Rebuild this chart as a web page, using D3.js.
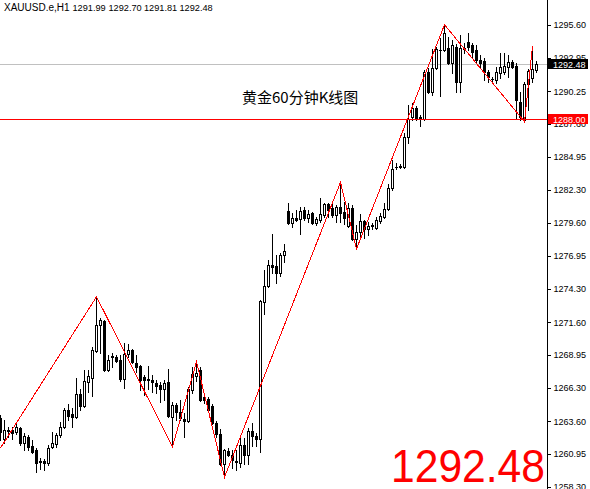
<!DOCTYPE html>
<html>
<head>
<meta charset="utf-8">
<script src="https://cdn.jsdelivr.net/npm/d3@7"></script>
<style>
  html, body { margin: 0; padding: 0; background: #ffffff; }
  svg { display: block; }
</style>
</head>
<body>
<svg id="chart" width="590" height="489"></svg>
<script>
// XAUUSD H1 candles, oldest first
const symbol = "XAUUSD.e,H1";
const title = "黄金60分钟K线图";

const opens = [
  1263.86,1262.16,1262.85,1262.89,1262.72,1263.05,1261.84,1262.32,1261.59,1261.27,
  1260.34,1260.38,1260.22,1261.51,1261.76,1262.48,1263.13,1264.50,1264.18,1263.94,
  1265.79,1264.82,1266.76,1267.09,1269.27,1271.37,1271.69,1267.73,1268.86,1268.78,
  1268.54,1267.01,1269.03,1269.35,1268.30,1268.06,1267.17,1267.01,1266.93,1266.68,
  1266.52,1266.20,1266.76,1263.94,1264.91,1264.34,1263.77,1263.61,1266.12,1267.25,
  1267.73,1265.55,1265.39,1264.82,1263.45,1262.56,1260.14,1261.19,1260.87,1260.42,
  1260.22,1261.67,1260.87,1262.81,1262.40,1262.16,1273.23,1274.52,1276.21,1276.13,
  1275.57,1277.02,1280.58,1279.61,1280.01,1279.93,1280.66,1280.01,1280.41,1279.61,
  1279.85,1280.25,1281.14,1280.82,1280.25,1280.90,1280.50,1279.39,1280.82,1278.32,
  1278.88,1279.77,1279.12,1279.37,1279.20,1279.77,1280.12,1280.74,1282.43,1284.13,
  1284.21,1284.13,1286.55,1288.17,1288.90,1288.13,1288.01,1291.80,1290.19,1292.13,
  1293.58,1293.58,1293.74,1292.53,1293.82,1291.00,1293.74,1294.23,1293.99,1293.58,
  1292.77,1292.69,1291.80,1291.24,1291.16,1291.72,1291.80,1292.21,1292.61,1292.29,
  1289.38,1287.93,1290.84,1291.32,1291.99
];
const highs = [
  1264.10,1263.69,1263.13,1263.13,1263.45,1263.13,1262.64,1262.48,1262.08,1261.43,
  1260.62,1260.54,1261.67,1262.72,1262.64,1263.53,1264.66,1264.99,1264.66,1267.09,
  1266.20,1267.73,1267.73,1269.59,1273.65,1271.93,1271.77,1268.94,1269.11,1268.94,
  1268.94,1269.91,1269.83,1269.43,1268.94,1268.14,1267.33,1268.06,1267.33,1266.93,
  1266.76,1266.93,1267.81,1265.15,1265.07,1265.31,1264.26,1266.36,1267.98,1268.40,
  1267.98,1265.63,1265.55,1264.99,1263.61,1262.97,1261.35,1261.43,1261.27,1261.27,
  1262.32,1262.24,1263.05,1263.45,1262.64,1273.39,1275.81,1276.62,1278.72,1277.02,
  1277.18,1277.91,1281.22,1280.41,1280.66,1280.90,1280.90,1280.66,1280.50,1280.09,
  1281.63,1281.22,1281.22,1281.30,1281.06,1282.89,1281.30,1281.22,1281.06,1279.45,
  1280.33,1279.85,1279.69,1279.61,1280.09,1280.41,1281.22,1282.76,1284.70,1284.45,
  1284.37,1286.88,1289.14,1289.30,1289.06,1288.33,1291.97,1292.13,1293.66,1293.82,
  1294.55,1295.62,1294.63,1294.39,1294.07,1294.79,1294.15,1294.95,1294.15,1293.99,
  1293.18,1292.94,1291.97,1291.40,1292.21,1293.34,1293.34,1293.18,1292.77,1292.53,
  1290.19,1291.00,1292.05,1293.90,1292.70
];
const lows = [
  1262.08,1261.84,1262.32,1262.16,1262.56,1261.67,1261.27,1261.27,1261.03,1259.49,
  1259.74,1259.66,1260.06,1261.43,1261.51,1262.32,1263.05,1263.69,1263.13,1263.86,
  1264.50,1264.74,1265.96,1265.63,1269.19,1269.11,1267.65,1267.65,1267.98,1268.38,
  1266.84,1266.28,1268.78,1268.30,1267.57,1266.12,1265.71,1266.20,1265.96,1265.88,
  1265.15,1265.31,1263.94,1261.54,1263.69,1263.69,1262.32,1263.53,1265.88,1266.84,
  1265.23,1265.07,1264.42,1263.37,1262.32,1260.06,1259.07,1260.79,1259.82,1259.66,
  1259.90,1260.14,1260.14,1261.59,1261.59,1261.11,1272.26,1274.44,1275.57,1274.76,
  1275.33,1276.46,1279.53,1279.28,1279.77,1278.72,1279.85,1279.69,1279.53,1279.45,
  1279.69,1280.09,1280.09,1280.09,1279.69,1279.69,1279.53,1279.28,1278.23,1277.51,
  1278.40,1278.40,1278.64,1279.12,1279.12,1279.61,1280.01,1280.66,1282.27,1283.97,
  1284.05,1284.05,1286.07,1287.93,1287.93,1287.44,1287.93,1290.11,1289.95,1292.05,
  1289.87,1293.50,1292.45,1291.72,1290.19,1290.19,1293.34,1293.58,1293.02,1292.53,
  1292.13,1291.16,1291.00,1290.92,1290.92,1291.32,1291.64,1291.40,1292.13,1288.01,
  1287.93,1287.79,1288.74,1291.00,1291.81
];
const closes = [
  1262.72,1262.89,1262.81,1262.68,1263.13,1261.84,1262.40,1261.51,1261.11,1260.22,
  1260.38,1260.22,1261.43,1261.84,1262.48,1263.13,1264.50,1264.02,1263.94,1265.79,
  1264.82,1266.84,1267.25,1269.35,1271.37,1271.77,1267.73,1268.54,1268.78,1268.46,
  1267.01,1269.03,1269.35,1268.38,1267.98,1266.93,1266.93,1266.93,1266.76,1266.44,
  1266.20,1266.68,1264.02,1264.91,1264.34,1263.86,1263.61,1266.20,1267.41,1267.49,
  1265.31,1265.31,1264.50,1263.45,1262.56,1260.14,1261.27,1260.87,1260.46,1260.30,
  1261.67,1260.87,1262.81,1262.40,1262.16,1273.31,1274.52,1276.21,1276.05,1275.57,
  1277.02,1277.35,1279.61,1280.01,1279.85,1280.58,1280.01,1280.33,1279.61,1279.93,
  1280.33,1281.14,1280.66,1280.25,1280.90,1280.41,1280.01,1280.82,1278.32,1278.88,
  1279.77,1279.12,1279.37,1279.41,1279.85,1280.17,1280.74,1282.43,1283.97,1284.17,
  1284.13,1286.55,1288.01,1288.90,1288.01,1288.05,1291.80,1290.19,1292.13,1293.66,
  1293.62,1294.95,1292.53,1293.99,1291.00,1293.74,1293.66,1293.82,1293.42,1292.77,
  1292.53,1291.80,1291.40,1291.20,1291.80,1292.21,1292.29,1292.61,1292.21,1289.54,
  1288.17,1290.84,1291.89,1292.05,1292.48
];

// ZigZag turning points (bar index, price)
const zigzagIdx = [0, 24, 43, 49, 56, 85, 89, 111, 131, 133];
const zigzagVal = [1261.43, 1273.65, 1261.54, 1268.40, 1259.07, 1282.89, 1277.51, 1295.62, 1287.79, 1293.90];

// price scale labels
const priceTicks = [1295.60, 1292.95, 1290.25, 1287.60, 1284.95, 1282.30, 1279.60,
                    1276.95, 1274.30, 1271.60, 1268.95, 1266.30, 1263.60, 1260.95, 1258.30];

// horizontal level
const levelPrice = 1288.00;

// ---------------------------------------------------------------
const W = 590, H = 489, axisX = 547;
const svg = d3.select("#chart");
const n = opens.length;

const x = d3.scaleLinear().domain([0, n - 1]).range([0.5, 536.5]);
const y = d3.scaleLinear().domain([1258.30, 1295.60]).range([486.8, 25]);
const py = v => Math.round(y(v)) + 0.5;

const bid = closes[n - 1];
const fmt = d3.format(".2f");

svg.append("rect").attr("width", W).attr("height", H).attr("fill", "#ffffff");

const plot = svg.append("g").attr("shape-rendering", "crispEdges");

// bid line
plot.append("line")
  .attr("x1", 0).attr("x2", axisX)
  .attr("y1", py(bid)).attr("y2", py(bid))
  .attr("stroke", "#c0c0c0").attr("stroke-width", 1);

// candles
const bars = d3.range(n).map(i => ({ i, o: opens[i], h: highs[i], l: lows[i], c: closes[i] }));
const candle = plot.append("g").selectAll("g").data(bars).join("g");

candle.append("line")
  .attr("x1", d => x(d.i)).attr("x2", d => x(d.i))
  .attr("y1", d => Math.round(y(d.h))).attr("y2", d => Math.round(y(d.l)) + 1)
  .attr("stroke", "#000").attr("stroke-width", 1);

candle.each(function (d) {
  const g = d3.select(this);
  const top = Math.round(y(Math.max(d.o, d.c)));
  const bot = Math.round(y(Math.min(d.o, d.c)));
  const cx = x(d.i);
  if (bot - top < 1) {
    g.append("line")
      .attr("x1", cx - 1.5).attr("x2", cx + 1.5)
      .attr("y1", top + 0.5).attr("y2", top + 0.5)
      .attr("stroke", "#000");
  } else {
    g.append("rect")
      .attr("x", cx - 1).attr("width", 2)
      .attr("y", top + 0.5).attr("height", bot - top)
      .attr("fill", d.c >= d.o ? "#ffffff" : "#000000")
      .attr("stroke", "#000").attr("stroke-width", 1);
  }
});

// level line
plot.append("line")
  .attr("x1", 0).attr("x2", axisX)
  .attr("y1", py(levelPrice)).attr("y2", py(levelPrice))
  .attr("stroke", "#ff0000").attr("stroke-width", 1);

// zigzag
const zz = zigzagIdx.map((i, k) => ({ i, v: zigzagVal[k] }));
plot.append("path")
  .datum(zz)
  .attr("d", d3.line().x(d => x(d.i)).y(d => y(d.v)))
  .attr("fill", "none")
  .attr("stroke", "#ff0000").attr("stroke-width", 1);

// right price axis
const axis = d3.axisRight(y)
  .tickValues(priceTicks)
  .tickFormat(fmt)
  .tickSize(3)
  .tickPadding(3)
  .tickSizeOuter(0);

const ag = svg.append("g")
  .attr("transform", `translate(${axisX + 0.5},0)`)
  .attr("shape-rendering", "crispEdges")
  .call(axis);
ag.select(".domain").remove();
ag.selectAll(".tick line").attr("stroke", "#000");
ag.selectAll(".tick text")
  .attr("fill", "#000")
  .style("font-family", "'Liberation Sans', Arial, sans-serif")
  .style("font-size", "9px");

svg.append("line")
  .attr("x1", axisX + 0.5).attr("x2", axisX + 0.5)
  .attr("y1", 0).attr("y2", H)
  .attr("stroke", "#000").attr("shape-rendering", "crispEdges");

// price tags on the axis
function tag(value, bg) {
  const cy = Math.round(y(value));
  svg.append("rect")
    .attr("x", axisX + 1).attr("y", cy - 5)
    .attr("width", W - axisX - 3).attr("height", 10)
    .attr("fill", bg).attr("shape-rendering", "crispEdges");
  svg.append("text")
    .attr("x", axisX + 6).attr("y", cy + 3.5)
    .attr("fill", "#ffffff")
    .style("font-family", "'Liberation Sans', Arial, sans-serif")
    .style("font-size", "9px")
    .text(fmt(value));
}
tag(bid, "#000000");
tag(levelPrice, "#ff0000");

// header: symbol and last bar OHLC
const header = svg.append("g")
  .style("font-family", "'Liberation Sans', Arial, sans-serif")
  .attr("fill", "#000");
header.append("text").attr("x", 4).attr("y", 11).style("font-size", "10px").text(symbol);
const ohlc = [opens[n - 1], highs[n - 1], lows[n - 1], closes[n - 1]];
const ohlcX = [72.5, 108.5, 144, 179.5];
ohlc.forEach((v, k) => {
  header.append("text").attr("x", ohlcX[k]).attr("y", 11).style("font-size", "9.2px").text(fmt(v));
});

// caption
svg.append("text")
  .attr("x", 242).attr("y", 103)
  .attr("fill", "#000")
  .style("font-family", "'Noto Sans CJK SC', 'Noto Sans', sans-serif")
  .style("font-size", "15px")
  .text(title);

// large last price
svg.append("text")
  .attr("x", 391).attr("y", 482)
  .attr("fill", "#ff0000")
  .attr("textLength", 154)
  .attr("lengthAdjust", "spacingAndGlyphs")
  .style("font-family", "'Liberation Sans', Arial, sans-serif")
  .style("font-size", "47px")
  .text(fmt(bid));
</script>
</body>
</html>
